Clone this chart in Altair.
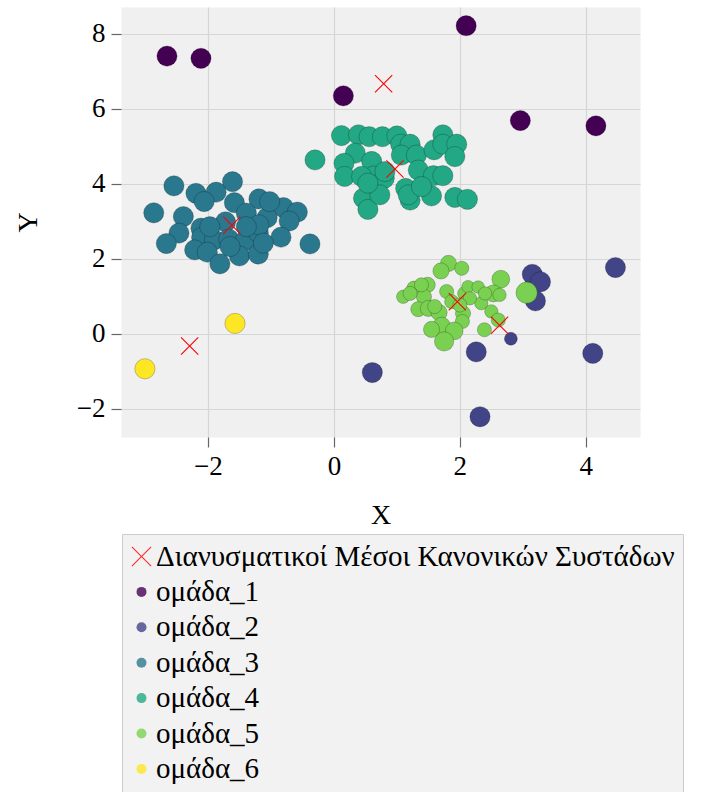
import altair as alt
import pandas as pd

# ---------------- data ----------------
g1_x = [-2.65, -2.11, 0.15, 2.10, 2.96, 4.16]
g1_y = [7.41, 7.35, 6.35, 8.22, 5.69, 5.55]
g1_m = [1, 1, 1, 1, 1, 1]

g2_x = [3.15, 3.28, 3.20, 4.47, 2.81, 2.26, 4.11, 0.61, 2.32]
g2_y = [1.59, 1.39, 0.88, 1.77, -0.13, -0.48, -0.52, -1.03, -2.21]
g2_m = [1, 1, 1, 1, 0.64, 1, 1, 1, 1]

g3_x = [-2.54, -1.61, -2.19, -1.87, -2.06, -1.58, -2.86, -2.39, -1.19, -0.80,
        -0.58, -1.06, -0.71, -1.72, -1.39, -2.11, -2.46, -2.66, -2.10, -1.90,
        -1.67, -1.41, -1.20, -1.19, -0.84, -0.38, -2.21, -2.01, -1.81, -1.50,
        -1.20, -1.12, -1.65, -1.39, -1.97, -1.02]
g3_y = [3.95, 4.06, 3.75, 3.78, 3.53, 3.50, 3.23, 3.13, 3.60, 3.37,
        3.25, 3.10, 3.01, 2.99, 3.22, 2.82, 2.69, 2.41, 2.57, 2.51,
        2.53, 2.48, 2.70, 2.91, 2.58, 2.40, 2.24, 2.18, 1.87, 2.08,
        2.13, 2.42, 2.33, 2.86, 2.86, 3.53]
g3_m = [1] * len(g3_x)

g4_x = [-0.30, 0.12, 0.39, 0.56, 0.77, 1.00, 1.06, 1.21, 0.34, 0.16,
        0.17, 0.60, 0.63, 0.80, 1.07, 1.31, 1.34, 1.58, 1.73, 1.73,
        1.59, 1.73, 1.95, 1.92, 1.14, 1.21, 1.55, 1.92, 2.12, 0.47,
        0.54, 0.73, 0.81, 0.44, 1.18, 1.39, 0.54]
g4_y = [4.64, 5.29, 5.31, 5.26, 5.26, 5.28, 5.06, 5.06, 4.82, 4.55,
        4.20, 4.60, 4.21, 4.15, 4.77, 4.77, 4.37, 4.22, 4.22, 5.31,
        4.91, 5.06, 5.06, 4.73, 3.88, 3.57, 3.68, 3.64, 3.59, 3.62,
        3.32, 3.71, 4.33, 4.20, 3.71, 3.93, 4.02]
g4_m = [1] * len(g4_x)

g5_x = [1.82, 2.03, 1.70, 1.10, 1.27, 1.49, 1.43, 1.34, 1.50, 1.67,
        1.79, 2.07, 2.13, 2.29, 2.65, 2.53, 2.34, 2.05, 2.04, 1.71,
        1.55, 1.91, 1.75, 2.39, 3.06, 2.50, 2.61, 2.40, 2.16, 1.87,
        1.60, 2.00, 1.39, 1.21, 2.63]
g5_y = [1.88, 1.75, 1.68, 0.99, 1.22, 1.31, 0.99, 0.66, 0.68, 0.57,
        1.13, 1.08, 1.26, 1.25, 1.46, 1.08, 0.82, 0.55, 0.33, 0.21,
        0.12, 0.08, -0.20, 0.11, 1.10, 0.60, 0.37, 1.08, 0.95, 0.86,
        0.73, 0.77, 1.31, 1.08, 1.04]
g5_m = [0.80, 0.70, 0.80, 0.66, 0.70, 0.75, 0.75, 0.75, 0.80, 0.80,
        0.70, 0.66, 0.62, 0.62, 0.88, 0.84, 0.66, 0.75, 0.70, 0.88,
        0.80, 0.88, 0.95, 0.70, 1.05, 0.66, 0.70, 0.66, 0.66, 0.70,
        0.70, 0.70, 0.70, 0.70, 0.66]

g6_x = [-1.57, -3.00]
g6_y = [0.28, -0.93]
g6_m = [1, 1]

centroid_x = [0.79, 0.97, -1.62, -2.29, 1.96, 2.63]
centroid_y = [6.67, 4.40, 2.90, -0.32, 0.86, 0.23]

centroid_label = "Διανυσματικοί Μέσοι Κανονικών Συστάδων"
group_labels = ["ομάδα_1", "ομάδα_2", "ομάδα_3", "ομάδα_4", "ομάδα_5", "ομάδα_6"]
group_colors = ["#440154", "#414487", "#2a788e", "#22a884", "#7ad151", "#fde725"]

x_ticks = [-2, 0, 2, 4]
y_ticks = [-2, 0, 2, 4, 6, 8]

# ---------------- tables ----------------
groups = [(g1_x, g1_y, g1_m), (g2_x, g2_y, g2_m), (g3_x, g3_y, g3_m),
          (g4_x, g4_y, g4_m), (g5_x, g5_y, g5_m), (g6_x, g6_y, g6_m)]
rows = []
for lab, (xs, ys, ms) in zip(group_labels, groups):
    for a, b, m in zip(xs, ys, ms):
        rows.append({"x": a, "y": b, "m": m, "group": lab})
df = pd.DataFrame(rows)
cent = pd.DataFrame({"x": centroid_x, "y": centroid_y})

FONT = "Liberation Serif"
X_PATH = ("M0.17,0L2,1.83L1.83,2L0,0.17L-1.83,2L-2,1.83L-0.17,0L-2,-1.83"
          "L-1.83,-2L0,-0.17L1.83,-2L2,-1.83Z")

domain_all = [centroid_label] + group_labels
color_range = ["#ff0000"] + group_colors
shape_range = [X_PATH] + ["circle"] * 6

xscale = alt.Scale(domain=[-3.38, 4.86], nice=False, zero=False)
yscale = alt.Scale(domain=[-2.75, 8.72], nice=False, zero=False)

legend = alt.Legend(
    title=None, orient="none", legendX=1, legendY=527, direction="vertical",
    labelFont=FONT, labelFontSize=29, labelLimit=2000,
)

points = alt.Chart(df).mark_point(
    filled=True, opacity=1, stroke="black", strokeOpacity=0.22, strokeWidth=1
).encode(
    x=alt.X("x:Q", scale=xscale, axis=alt.Axis(values=x_ticks, title="X", format="d")),
    y=alt.Y("y:Q", scale=yscale, axis=alt.Axis(values=y_ticks, title="Y", format="d")),
    color=alt.Color("group:N", scale=alt.Scale(domain=domain_all, range=color_range), legend=legend),
    shape=alt.Shape("group:N", scale=alt.Scale(domain=domain_all, range=shape_range), legend=legend),
    size=alt.Size("m:Q", scale=alt.Scale(type="pow", exponent=2, domain=[0, 1], range=[0, 410]), legend=None),
)

centroids = alt.Chart(cent).mark_point(
    shape=X_PATH, filled=True, fill="#ff0000", size=81, opacity=1
).encode(
    x=alt.X("x:Q", scale=xscale, title="X"),
    y=alt.Y("y:Q", scale=yscale, title="Y"),
)

chart = alt.layer(points, centroids).properties(
    width=519, height=430,
    padding={"left": 121, "top": 7, "right": 67, "bottom": 355},
    autosize=alt.AutoSizeParams(type="none"),
).configure_view(
    fill="#f0f0f0", stroke="transparent"
).configure_axis(
    labelFont=FONT, titleFont=FONT, labelFontSize=27, titleFontSize=28,
    titleFontWeight="normal", labelColor="black", titleColor="black",
    domain=False, tickColor="#666666", tickSize=10, tickWidth=1.2,
    gridColor="#d6d6d6", gridWidth=1.2, labelPadding=6,
).configure_axisY(
    titlePadding=34
).configure_axisX(
    titlePadding=22
).configure_legend(
    labelFont=FONT, labelFontSize=29, labelColor="black", labelLimit=2000,
    symbolSize=100, symbolStrokeWidth=0, symbolOpacity=0.8,
    fillColor="#f2f2f2", strokeColor="#cccccc", padding=8,
    rowPadding=5.4, labelOffset=0, symbolOffset=-3,
)

chart.save("out.html", embed_options={"renderer": "svg", "actions": False})
